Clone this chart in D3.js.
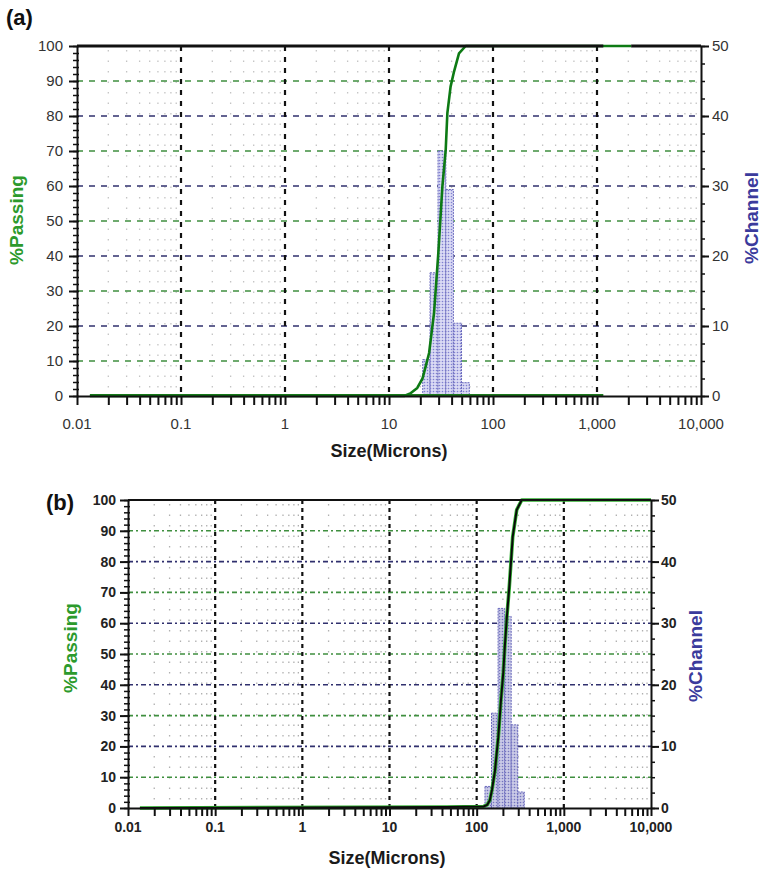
<!DOCTYPE html>
<html>
<head>
<meta charset="utf-8">
<script src="https://cdn.jsdelivr.net/npm/d3@7"></script>
<style>
  html, body { margin: 0; padding: 0; background: #fff; }
  svg { display: block; font-family: "Liberation Sans", Arial, sans-serif; }
</style>
</head>
<body>
<svg id="chart" width="760" height="873"></svg>
<script>
// ---------- data ----------
const xTickValues = [0.01, 0.1, 1, 10, 100, 1000, 10000];
const xTickLabels = ["0.01", "0.1", "1", "10", "100", "1,000", "10,000"];
const passingTicks = [0, 10, 20, 30, 40, 50, 60, 70, 80, 90, 100];
const channelTicks = [0, 10, 20, 30, 40, 50];
const panelLabels = ["(a)", "(b)"];

// panel (a): cumulative % passing
const aSize    = [0.0133, 14, 16, 18.7, 21, 22.5, 24.3, 27.1, 29.8, 32.6, 35.1, 36.4, 39.1, 42.2, 47.1, 54.6, 2130];
const aPassing = [0,      0,  0.7, 2.3, 5,  8.4,  12.3, 23.7, 40.8, 59.8, 70.3, 80.8, 88.4, 92.7, 97.9, 100,  100];
// panel (a): % channel histogram
const aBinEdges = [21.1, 24.8, 29.6, 35.2, 41.6, 49.8, 59.2];
const aChannel  = [5.2, 17.6, 35.0, 29.5, 10.4, 1.9];
const aChannelRange = [0.0133, 1150];

// panel (b)
const bSize    = [0.0137, 45, 120, 132, 142, 150, 162, 177, 190, 202, 211, 222, 237, 259, 288, 329, 10000];
const bPassing = [0,      0.3, 0.5, 1,  2.6, 6,   12,  23,  35,  44,  53,  62,  72,  88,  96.8, 100, 100];
const bBinEdges = [124.5, 148, 176, 209.3, 248.9, 296, 352];
const bChannel  = [3.5, 15.4, 32.4, 31.1, 13.5, 2.6];

// ---------- drawing ----------
const svg = d3.select("#chart");
const defs = svg.append("defs");
function makePattern(id, bg, dot) {
  const pat = defs.append("pattern").attr("id", id).attr("width", 3).attr("height", 3)
    .attr("patternUnits", "userSpaceOnUse");
  pat.append("rect").attr("width", 3).attr("height", 3).attr("fill", bg);
  pat.append("circle").attr("cx", 1.5).attr("cy", 1.5).attr("r", 0.8).attr("fill", dot);
}
makePattern("dotsA", "#dadaf4", "#8080d0");
makePattern("dotsB", "#c9c9e6", "#7474bf");

const minorValues = [];
for (let e = -2; e < 4; e++) for (let m = 1; m <= 9; m++) minorValues.push(m * Math.pow(10, e));
minorValues.push(10000);

function drawPanel(cfg) {
  const g = svg.append("g");
  const x = d3.scaleLog().domain([0.01, 10000]).range([cfg.left, cfg.right]);
  const yL = d3.scaleLinear().domain([0, 100]).range([cfg.bottom, cfg.top]);
  const yR = d3.scaleLinear().domain([0, 50]).range([cfg.bottom, cfg.top]);

  // minor vertical dotted grid
  g.append("g").selectAll("line").data(minorValues.filter(v => !xTickValues.includes(v)))
    .join("line")
    .attr("x1", d => x(d)).attr("x2", d => x(d))
    .attr("y1", cfg.top + 4).attr("y2", cfg.bottom - 4)
    .attr("stroke", cfg.minorColor).attr("stroke-width", 1.3)
    .attr("stroke-dasharray", "1.5,9");

  // horizontal dashed grid
  g.append("g").selectAll("line").data(passingTicks.filter(v => v > 0 && v < 100))
    .join("line")
    .attr("x1", cfg.left).attr("x2", cfg.right)
    .attr("y1", d => yL(d)).attr("y2", d => yL(d))
    .attr("stroke", d => (d / 10) % 2 === 1 ? "#3f8f3f" : "#30306e")
    .attr("stroke-width", cfg.gridWidth)
    .attr("stroke-dasharray", cfg.hDash);

  // vertical dashed decade grid
  g.append("g").selectAll("line").data(xTickValues.slice(1, -1))
    .join("line")
    .attr("x1", d => x(d)).attr("x2", d => x(d))
    .attr("y1", cfg.top).attr("y2", cfg.bottom)
    .attr("stroke", "#111").attr("stroke-width", 2.2)
    .attr("stroke-dasharray", cfg.vDash);

  // histogram bars
  g.append("g").selectAll("rect").data(cfg.channel)
    .join("rect")
    .attr("x", (d, i) => x(cfg.edges[i]))
    .attr("width", (d, i) => x(cfg.edges[i + 1]) - x(cfg.edges[i]))
    .attr("y", d => yR(d))
    .attr("height", d => cfg.bottom - yR(d))
    .attr("fill", `url(#${cfg.pattern})`)
    .attr("stroke", "#6b6bbd").attr("stroke-width", 1)
    .attr("stroke-dasharray", "2,1");

  if (cfg.channelRange) {
    g.append("line")
      .attr("x1", x(cfg.channelRange[0])).attr("x2", x(cfg.channelRange[1]))
      .attr("y1", yR(0) - 1).attr("y2", yR(0) - 1)
      .attr("stroke", "#1d7a1d").attr("stroke-width", 2.2);
  }

  // cumulative curve
  const line = d3.line().x(d => x(d[0])).y(d => yL(d[1]));
  const pts = cfg.size.map((s, i) => [s, cfg.passing[i]]);
  if (cfg.curveMode === "green") {
    g.append("path").datum(pts).attr("d", line)
      .attr("fill", "none").attr("stroke", "#0d7a14").attr("stroke-width", 2.6)
      .attr("stroke-linejoin", "round");
  } else {
    g.append("path").datum(pts).attr("d", line)
      .attr("fill", "none").attr("stroke", "#2fae2f").attr("stroke-width", 3.6)
      .attr("stroke-linejoin", "round");
    g.append("path").datum(pts).attr("d", line)
      .attr("fill", "none").attr("stroke", "#0a0a0a").attr("stroke-width", 2)
      .attr("stroke-linejoin", "round");
  }

  // top frame
  cfg.topSegments.forEach(seg => {
    g.append("line")
      .attr("x1", x(seg[0])).attr("x2", x(seg[1]))
      .attr("y1", cfg.top).attr("y2", cfg.top)
      .attr("stroke", "#111").attr("stroke-width", cfg.topWidth);
  });

  const tickColor = "#111";
  // bottom axis
  const xAxis = g.append("g").attr("transform", `translate(0,${cfg.bottom})`)
    .call(d3.axisBottom(x).tickValues(minorValues).tickSize(cfg.xTickLen).tickFormat("").tickSizeOuter(0));
  xAxis.select(".domain").attr("stroke", tickColor).attr("stroke-width", 2);
  xAxis.selectAll(".tick line").attr("stroke", tickColor).attr("stroke-width", 2);

  g.append("g").selectAll("text").data(xTickValues)
    .join("text")
    .attr("x", d => x(d)).attr("y", cfg.xLabelY)
    .attr("text-anchor", "middle")
    .attr("font-size", cfg.tickFont).attr("font-weight", cfg.tickWeight)
    .attr("fill", cfg.tickFill)
    .text((d, i) => xTickLabels[i]);

  // left axis
  const lMinor = g.append("g").attr("transform", `translate(${cfg.left},0)`)
    .call(d3.axisLeft(yL).tickValues(d3.range(0, 101, 2)).tickSize(4).tickFormat("").tickSizeOuter(0));
  lMinor.select(".domain").attr("stroke", tickColor).attr("stroke-width", 2);
  lMinor.selectAll(".tick line").attr("stroke", tickColor).attr("stroke-width", 1.5).attr("x2", -4).attr("x1", 2);
  const lMajor = g.append("g").attr("transform", `translate(${cfg.left},0)`)
    .call(d3.axisLeft(yL).tickValues(passingTicks).tickSize(8).tickPadding(cfg.lPad).tickSizeOuter(0));
  lMajor.select(".domain").remove();
  lMajor.selectAll(".tick line").attr("stroke", tickColor).attr("stroke-width", 2);
  lMajor.selectAll(".tick text").attr("font-size", cfg.tickFont).attr("font-weight", cfg.tickWeight)
    .attr("fill", cfg.tickFill).attr("font-family", null);

  // right axis
  const rMinor = g.append("g").attr("transform", `translate(${cfg.right},0)`)
    .call(d3.axisRight(yR).tickValues(d3.range(0, 50.1, 2.5)).tickSize(4).tickFormat("").tickSizeOuter(0));
  rMinor.select(".domain").attr("stroke", tickColor).attr("stroke-width", 2);
  rMinor.selectAll(".tick line").attr("stroke", tickColor).attr("stroke-width", 1.5);
  const rMajor = g.append("g").attr("transform", `translate(${cfg.right},0)`)
    .call(d3.axisRight(yR).tickValues(channelTicks).tickSize(8).tickPadding(cfg.rPad).tickSizeOuter(0));
  rMajor.select(".domain").remove();
  rMajor.selectAll(".tick line").attr("stroke", tickColor).attr("stroke-width", 2);
  rMajor.selectAll(".tick text").attr("font-size", cfg.tickFont).attr("font-weight", cfg.tickWeight)
    .attr("fill", cfg.tickFill).attr("font-family", null);

  // titles
  g.append("text").attr("x", cfg.xTitle[0]).attr("y", cfg.xTitle[1])
    .attr("text-anchor", "middle").attr("font-size", 18).attr("font-weight", "bold")
    .attr("fill", "#1a1a1a").text("Size(Microns)");
  g.append("text")
    .attr("transform", `translate(${cfg.passTitle[0]},${cfg.passTitle[1]}) rotate(-90)`)
    .attr("text-anchor", "middle").attr("dominant-baseline", "central")
    .attr("font-size", 19).attr("font-weight", "bold").attr("fill", "#2c9a2c")
    .text("%Passing");
  g.append("text")
    .attr("transform", `translate(${cfg.chanTitle[0]},${cfg.chanTitle[1]}) rotate(-90)`)
    .attr("text-anchor", "middle").attr("dominant-baseline", "central")
    .attr("font-size", 19).attr("font-weight", "bold").attr("fill", "#3b3b9c")
    .text("%Channel");
  g.append("text").attr("x", cfg.panelLabel[0]).attr("y", cfg.panelLabel[1])
    .attr("font-size", 22).attr("font-weight", "bold").attr("fill", "#111")
    .text(cfg.label);
}

drawPanel({
  label: panelLabels[0], panelLabel: [6, 25],
  left: 77, right: 701, top: 46, bottom: 396,
  size: aSize, passing: aPassing, edges: aBinEdges, channel: aChannel,
  channelRange: aChannelRange, curveMode: "green", pattern: "dotsA",
  topSegments: [[0.01, aChannelRange[1]], [aSize[aSize.length - 1], 10000]], topWidth: 3,
  minorColor: "#c4c4c4", gridWidth: 1.6, hDash: "6,6", vDash: "5,6",
  xTickLen: 9, xLabelY: 429, tickFont: 15, tickWeight: "normal", tickFill: "#333",
  lPad: 6, rPad: 3,
  xTitle: [389, 457], passTitle: [16, 220], chanTitle: [751, 218]
});

drawPanel({
  label: panelLabels[1], panelLabel: [46, 510],
  left: 128, right: 651, top: 500, bottom: 808,
  size: bSize, passing: bPassing, edges: bBinEdges, channel: bChannel,
  channelRange: null, curveMode: "black", pattern: "dotsB",
  topSegments: [[0.01, 10000]], topWidth: 2,
  minorColor: "#b0b0b0", gridWidth: 1.6, hDash: "5,3,2,3", vDash: "4,4",
  xTickLen: 8, xLabelY: 832, tickFont: 14, tickWeight: "bold", tickFill: "#222",
  lPad: 4, rPad: 2,
  xTitle: [387, 864], passTitle: [70, 648], chanTitle: [695, 656]
});
</script>
</body>
</html>
